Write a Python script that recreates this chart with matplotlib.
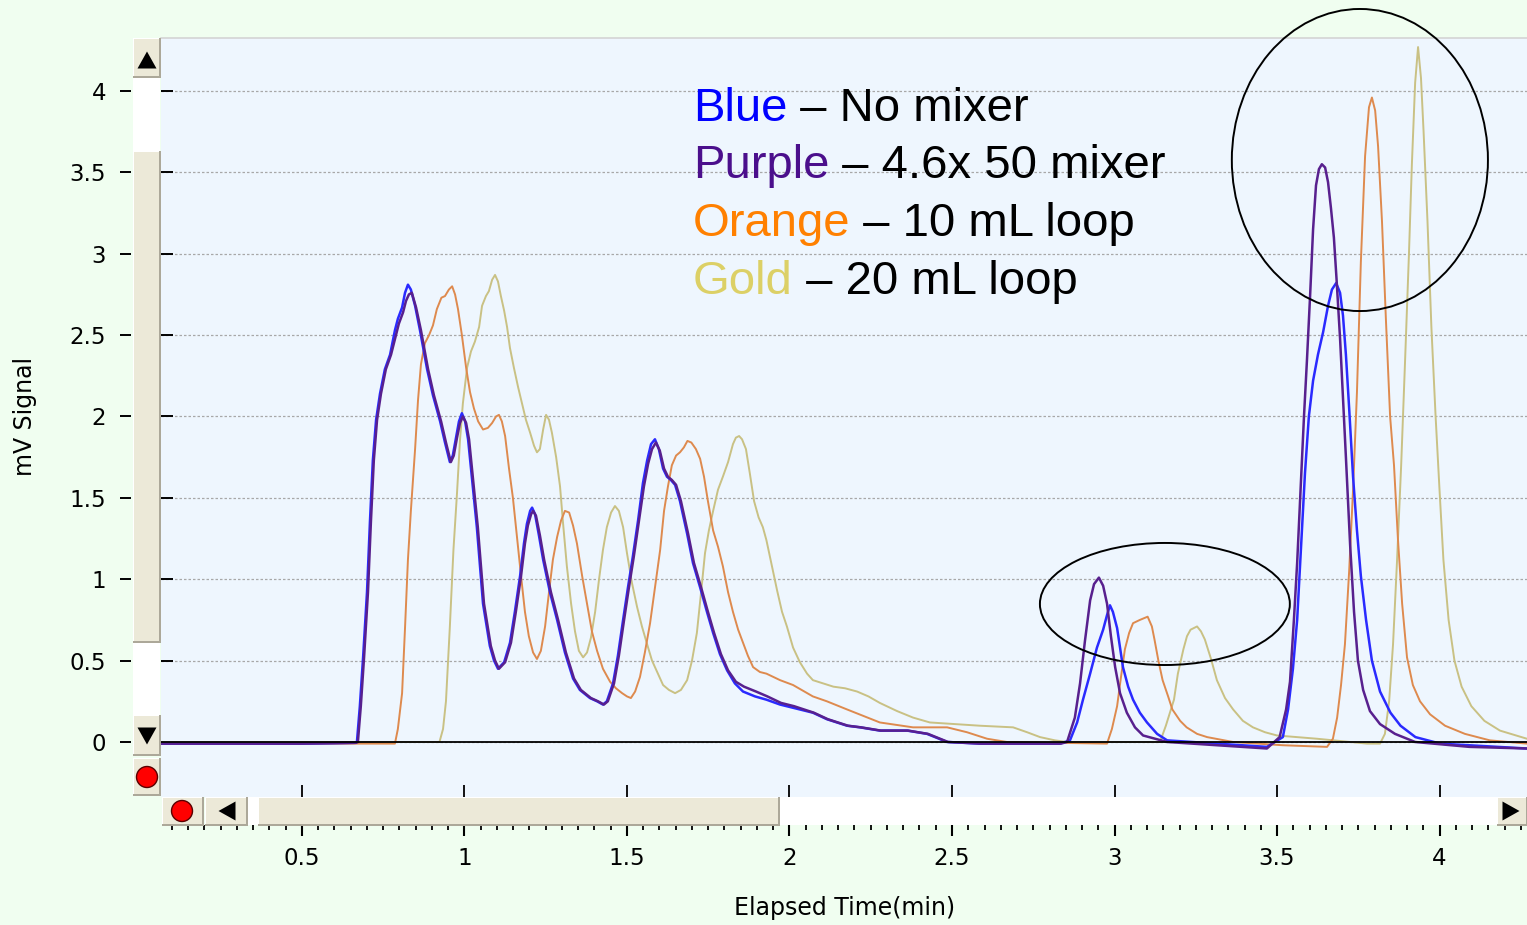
import matplotlib
matplotlib.use('Agg')
import matplotlib.pyplot as plt
from matplotlib.patches import Rectangle, Circle, Polygon, Ellipse
from matplotlib.ticker import MultipleLocator, FormatStrFormatter

# (elapsed time in min, signal in mV) for each run

# Blue - no mixer
blue_pts = [
    (0.066, -0.01), (0.494, -0.01), (0.663, -0.005), (0.669, 0.0), (0.678, 0.22), (0.688, 0.52),
    (0.700, 0.92), (0.709, 1.35), (0.718, 1.73), (0.728, 1.98), (0.740, 2.14), (0.755, 2.29),
    (0.771, 2.38), (0.786, 2.53), (0.795, 2.60), (0.808, 2.67), (0.817, 2.76), (0.826, 2.81),
    (0.835, 2.78), (0.848, 2.68), (0.863, 2.53), (0.885, 2.29), (0.903, 2.13), (0.925, 1.97),
    (0.940, 1.84), (0.955, 1.72), (0.964, 1.76), (0.974, 1.87), (0.983, 1.97), (0.992, 2.02),
    (1.002, 1.97), (1.011, 1.86), (1.023, 1.62), (1.038, 1.32), (1.057, 0.85), (1.078, 0.59),
    (1.091, 0.50), (1.103, 0.45), (1.122, 0.49), (1.140, 0.61), (1.155, 0.80), (1.171, 1.02),
    (1.183, 1.22), (1.192, 1.34), (1.202, 1.42), (1.208, 1.44), (1.217, 1.40), (1.229, 1.27),
    (1.242, 1.12), (1.263, 0.92), (1.285, 0.75), (1.309, 0.55), (1.334, 0.39), (1.355, 0.32),
    (1.386, 0.27), (1.408, 0.25), (1.426, 0.23), (1.438, 0.25), (1.457, 0.36), (1.472, 0.53),
    (1.488, 0.75), (1.503, 0.95), (1.518, 1.14), (1.534, 1.36), (1.549, 1.59), (1.562, 1.73),
    (1.574, 1.83), (1.586, 1.86), (1.598, 1.80), (1.611, 1.68), (1.623, 1.63), (1.635, 1.61),
    (1.648, 1.58), (1.663, 1.48), (1.685, 1.28), (1.703, 1.10), (1.725, 0.95), (1.746, 0.80),
    (1.765, 0.67), (1.786, 0.54), (1.808, 0.44), (1.832, 0.36), (1.857, 0.31), (1.894, 0.28),
    (1.929, 0.26), (1.971, 0.23), (2.011, 0.21), (2.072, 0.18), (2.115, 0.14), (2.177, 0.10),
    (2.217, 0.09), (2.278, 0.07), (2.362, 0.07), (2.423, 0.05), (2.485, 0.0), (2.586, -0.01),
    (2.832, -0.01), (2.863, 0.01), (2.885, 0.12), (2.903, 0.26), (2.925, 0.42), (2.946, 0.58),
    (2.965, 0.69), (2.977, 0.78), (2.986, 0.84), (2.995, 0.80), (3.008, 0.70), (3.017, 0.58),
    (3.026, 0.46), (3.042, 0.34), (3.057, 0.26), (3.078, 0.18), (3.100, 0.12), (3.131, 0.05),
    (3.162, 0.01), (3.469, -0.03), (3.518, 0.03), (3.534, 0.20), (3.549, 0.45), (3.562, 0.75),
    (3.574, 1.20), (3.586, 1.65), (3.598, 2.00), (3.611, 2.22), (3.626, 2.38), (3.642, 2.52),
    (3.657, 2.68), (3.669, 2.78), (3.682, 2.82), (3.694, 2.76), (3.703, 2.62), (3.712, 2.38),
    (3.722, 2.05), (3.734, 1.63), (3.746, 1.30), (3.758, 1.02), (3.774, 0.75), (3.792, 0.50),
    (3.817, 0.31), (3.849, 0.18), (3.880, 0.10), (3.926, 0.03), (4.002, -0.01), (4.269, -0.04),
]

# Purple - 4.6x 50 mixer
purple_pts = [
    (0.066, -0.01), (0.494, -0.01), (0.666, -0.005), (0.672, 0.0), (0.681, 0.22), (0.691, 0.52),
    (0.703, 0.92), (0.712, 1.35), (0.721, 1.73), (0.731, 1.98), (0.743, 2.14), (0.758, 2.29),
    (0.774, 2.38), (0.789, 2.50), (0.798, 2.57), (0.811, 2.64), (0.820, 2.71), (0.829, 2.75),
    (0.838, 2.76), (0.851, 2.67), (0.866, 2.53), (0.888, 2.29), (0.906, 2.13), (0.928, 1.97),
    (0.943, 1.84), (0.958, 1.72), (0.967, 1.76), (0.977, 1.87), (0.986, 1.96), (0.995, 2.00),
    (1.005, 1.96), (1.014, 1.86), (1.026, 1.62), (1.041, 1.32), (1.060, 0.85), (1.081, 0.59),
    (1.094, 0.50), (1.106, 0.45), (1.125, 0.49), (1.143, 0.61), (1.158, 0.80), (1.174, 1.02),
    (1.186, 1.22), (1.195, 1.33), (1.205, 1.40), (1.211, 1.42), (1.220, 1.39), (1.232, 1.27),
    (1.245, 1.12), (1.266, 0.92), (1.288, 0.75), (1.312, 0.55), (1.337, 0.39), (1.358, 0.32),
    (1.389, 0.27), (1.411, 0.25), (1.429, 0.23), (1.441, 0.25), (1.460, 0.36), (1.475, 0.53),
    (1.491, 0.75), (1.506, 0.95), (1.521, 1.14), (1.537, 1.36), (1.552, 1.57), (1.565, 1.71),
    (1.577, 1.80), (1.589, 1.84), (1.601, 1.79), (1.614, 1.68), (1.626, 1.63), (1.638, 1.61),
    (1.651, 1.58), (1.666, 1.48), (1.688, 1.28), (1.706, 1.10), (1.728, 0.95), (1.749, 0.80),
    (1.768, 0.67), (1.789, 0.54), (1.811, 0.44), (1.835, 0.37), (1.860, 0.34), (1.897, 0.31),
    (1.932, 0.28), (1.974, 0.24), (2.014, 0.22), (2.075, 0.18), (2.118, 0.14), (2.180, 0.10),
    (2.220, 0.09), (2.281, 0.07), (2.365, 0.07), (2.426, 0.05), (2.488, 0.0), (2.589, -0.01),
    (2.835, -0.01), (2.854, 0.0), (2.878, 0.15), (2.894, 0.36), (2.909, 0.62), (2.925, 0.87),
    (2.937, 0.97), (2.952, 1.01), (2.965, 0.96), (2.977, 0.85), (2.989, 0.65), (3.002, 0.46),
    (3.017, 0.30), (3.038, 0.18), (3.063, 0.09), (3.088, 0.04), (3.162, 0.0), (3.469, -0.04),
    (3.508, 0.03), (3.528, 0.20), (3.540, 0.37), (3.552, 0.75), (3.562, 1.10), (3.571, 1.49),
    (3.583, 2.00), (3.592, 2.34), (3.602, 2.75), (3.611, 3.15), (3.620, 3.42), (3.629, 3.52),
    (3.638, 3.55), (3.648, 3.53), (3.657, 3.44), (3.666, 3.28), (3.675, 3.10), (3.683, 2.85),
    (3.694, 2.48), (3.703, 2.12), (3.712, 1.75), (3.725, 1.21), (3.737, 0.80), (3.749, 0.50),
    (3.765, 0.32), (3.786, 0.19), (3.817, 0.11), (3.863, 0.05), (3.925, 0.0), (4.092, -0.03),
    (4.269, -0.04),
]

# Orange - 10 mL loop
orange_pts = [
    (0.066, -0.01), (0.786, -0.01), (0.795, 0.08), (0.808, 0.30), (0.817, 0.70), (0.826, 1.12),
    (0.835, 1.42), (0.848, 1.80), (0.857, 2.10), (0.866, 2.32), (0.878, 2.45), (0.891, 2.50),
    (0.903, 2.56), (0.915, 2.66), (0.929, 2.73), (0.940, 2.74), (0.952, 2.78), (0.962, 2.80),
    (0.971, 2.75), (0.980, 2.66), (0.992, 2.50), (1.005, 2.30), (1.017, 2.15), (1.029, 2.05),
    (1.042, 1.97), (1.057, 1.92), (1.072, 1.93), (1.085, 1.96), (1.097, 2.00), (1.106, 2.01),
    (1.115, 1.97), (1.125, 1.88), (1.137, 1.68), (1.149, 1.50), (1.162, 1.25), (1.174, 1.02),
    (1.186, 0.80), (1.198, 0.65), (1.211, 0.55), (1.223, 0.51), (1.235, 0.56), (1.248, 0.71),
    (1.260, 0.92), (1.272, 1.12), (1.285, 1.26), (1.297, 1.36), (1.309, 1.42), (1.322, 1.41),
    (1.334, 1.33), (1.346, 1.22), (1.362, 1.02), (1.377, 0.85), (1.392, 0.68), (1.408, 0.56),
    (1.426, 0.45), (1.448, 0.37), (1.466, 0.33), (1.485, 0.30), (1.500, 0.28), (1.512, 0.27),
    (1.525, 0.31), (1.540, 0.40), (1.555, 0.55), (1.571, 0.73), (1.586, 0.95), (1.602, 1.18),
    (1.614, 1.42), (1.626, 1.57), (1.638, 1.70), (1.651, 1.76), (1.663, 1.78), (1.675, 1.81),
    (1.686, 1.85), (1.698, 1.84), (1.712, 1.80), (1.725, 1.74), (1.737, 1.63), (1.749, 1.48),
    (1.765, 1.30), (1.780, 1.20), (1.795, 1.08), (1.811, 0.92), (1.826, 0.80), (1.842, 0.69),
    (1.857, 0.61), (1.872, 0.53), (1.888, 0.46), (1.909, 0.43), (1.929, 0.42), (1.971, 0.38),
    (2.011, 0.35), (2.072, 0.28), (2.115, 0.25), (2.177, 0.20), (2.278, 0.12), (2.380, 0.09),
    (2.485, 0.09), (2.546, 0.06), (2.608, 0.02), (2.669, 0.0), (2.977, -0.01), (2.992, 0.08),
    (3.008, 0.22), (3.020, 0.40), (3.032, 0.57), (3.045, 0.67), (3.057, 0.73), (3.078, 0.75),
    (3.102, 0.77), (3.115, 0.71), (3.123, 0.63), (3.135, 0.50), (3.148, 0.38), (3.165, 0.28),
    (3.178, 0.20), (3.202, 0.13), (3.222, 0.09), (3.254, 0.05), (3.285, 0.03), (3.365, 0.0),
    (3.518, -0.02), (3.654, -0.03), (3.672, 0.02), (3.685, 0.15), (3.697, 0.35), (3.709, 0.60),
    (3.722, 1.05), (3.734, 1.55), (3.746, 2.15), (3.758, 2.95), (3.771, 3.60), (3.783, 3.90),
    (3.792, 3.96), (3.802, 3.88), (3.811, 3.66), (3.823, 3.20), (3.835, 2.60), (3.848, 2.00),
    (3.860, 1.70), (3.872, 1.25), (3.885, 0.85), (3.900, 0.52), (3.918, 0.35), (3.940, 0.25),
    (3.971, 0.17), (4.017, 0.10), (4.078, 0.05), (4.155, 0.01), (4.269, -0.01),
]

# Gold - 20 mL loop
gold_pts = [
    (0.066, 0.0), (0.923, 0.0), (0.934, 0.08), (0.943, 0.25), (0.955, 0.71), (0.966, 1.18),
    (0.977, 1.53), (0.986, 1.85), (0.995, 2.08), (1.008, 2.30), (1.020, 2.40), (1.032, 2.46),
    (1.045, 2.55), (1.054, 2.68), (1.066, 2.74), (1.075, 2.77), (1.085, 2.84), (1.094, 2.87),
    (1.103, 2.83), (1.112, 2.74), (1.122, 2.65), (1.131, 2.55), (1.140, 2.42), (1.152, 2.30),
    (1.165, 2.18), (1.177, 2.08), (1.189, 1.98), (1.202, 1.90), (1.214, 1.82), (1.223, 1.78),
    (1.232, 1.80), (1.242, 1.92), (1.251, 2.01), (1.260, 1.98), (1.269, 1.90), (1.282, 1.75),
    (1.294, 1.57), (1.303, 1.35), (1.315, 1.08), (1.328, 0.85), (1.340, 0.68), (1.352, 0.56),
    (1.365, 0.52), (1.377, 0.55), (1.389, 0.64), (1.402, 0.80), (1.414, 1.00), (1.426, 1.18),
    (1.438, 1.32), (1.451, 1.41), (1.463, 1.45), (1.475, 1.42), (1.488, 1.32), (1.500, 1.16),
    (1.515, 0.98), (1.531, 0.83), (1.546, 0.71), (1.562, 0.60), (1.577, 0.50), (1.595, 0.42),
    (1.611, 0.35), (1.629, 0.32), (1.648, 0.30), (1.666, 0.32), (1.685, 0.38), (1.700, 0.50),
    (1.715, 0.67), (1.728, 0.92), (1.740, 1.16), (1.752, 1.30), (1.765, 1.42), (1.780, 1.55),
    (1.795, 1.63), (1.811, 1.72), (1.826, 1.83), (1.835, 1.87), (1.845, 1.88), (1.854, 1.86),
    (1.866, 1.80), (1.878, 1.65), (1.891, 1.48), (1.905, 1.38), (1.918, 1.32), (1.929, 1.24),
    (1.946, 1.08), (1.962, 0.93), (1.977, 0.80), (1.992, 0.71), (2.011, 0.58), (2.032, 0.49),
    (2.054, 0.42), (2.072, 0.38), (2.103, 0.36), (2.135, 0.34), (2.171, 0.33), (2.208, 0.31),
    (2.243, 0.28), (2.278, 0.24), (2.331, 0.19), (2.380, 0.15), (2.432, 0.12), (2.509, 0.11),
    (2.586, 0.10), (2.688, 0.09), (2.731, 0.06), (2.771, 0.03), (2.817, 0.01), (2.854, 0.0),
    (3.140, 0.0), (3.158, 0.10), (3.183, 0.26), (3.195, 0.42), (3.212, 0.57), (3.223, 0.65),
    (3.234, 0.69), (3.254, 0.71), (3.266, 0.68), (3.278, 0.63), (3.297, 0.51), (3.315, 0.38),
    (3.340, 0.27), (3.365, 0.20), (3.395, 0.13), (3.426, 0.09), (3.463, 0.06), (3.500, 0.04),
    (3.623, 0.02), (3.777, -0.01), (3.817, -0.01), (3.832, 0.05), (3.845, 0.25), (3.857, 0.60),
    (3.869, 1.10), (3.882, 1.70), (3.894, 2.34), (3.906, 3.00), (3.915, 3.55), (3.925, 4.05),
    (3.934, 4.27), (3.943, 4.08), (3.951, 3.75), (3.963, 3.20), (3.975, 2.55), (3.988, 2.00),
    (4.000, 1.55), (4.012, 1.12), (4.028, 0.75), (4.046, 0.50), (4.068, 0.34), (4.098, 0.22),
    (4.138, 0.13), (4.186, 0.07), (4.269, 0.02),
]

y_ticks = [0, 0.5, 1, 1.5, 2, 2.5, 3, 3.5, 4]
x_ticks = [0.5, 1, 1.5, 2, 2.5, 3, 3.5, 4]

legend_keys = ['Blue', 'Purple', 'Orange', 'Gold']
legend_desc = [' \u2013 No mixer', ' \u2013 4.6x 50 mixer', ' \u2013 10 mL loop', ' \u2013 20 mL loop']
legend_colors = ['#0000ff', '#4b0f8c', '#ff8000', '#dcd066']

W, H = 1527, 925
fig = plt.figure(figsize=(W / 100, H / 100), dpi=100, facecolor='#f0fef0')

# plot area, pixel box 161..1527 x 38..797
ax = fig.add_axes([161 / W, 1 - 797 / H, 1 - 161 / W, (797 - 38) / H])
ax.set_facecolor('#eef6fe')
ax.set_xlim(0.0662, 4.2692)
ax.set_ylim(-0.338, 4.3257)

for side in ['left', 'right', 'bottom']:
    ax.spines[side].set_visible(False)
ax.spines['top'].set_color('#d4d4d4')
ax.spines['top'].set_linewidth(1.2)

ax.set_yticks(y_ticks)
ax.set_xticks(x_ticks)
ax.tick_params(axis='y', direction='in', length=8.5, width=1.4, labelleft=False)
ax.tick_params(axis='x', direction='in', length=9, width=1.3, labelbottom=False)
ax.yaxis.grid(True, color='#a8a8a8', linestyle=(0, (2, 1.6)), linewidth=0.9)
ax.set_axisbelow(True)

ax.axhline(0, color='black', linewidth=1.3, zorder=2.5)

for pts, col, lw in [(gold_pts, '#c9c184', 1.4), (orange_pts, '#de8a4e', 1.4),
                     (blue_pts, '#2a2aff', 1.8), (purple_pts, '#58208e', 1.8)]:
    t, mv = zip(*pts)
    ax.plot(t, mv, color=col, linewidth=lw, solid_joinstyle='round', zorder=2)

# highlight rings
ax.add_patch(Ellipse((3.755, 3.576), 0.788, 1.856, fill=False, edgecolor='black',
                     linewidth=1.4, clip_on=False, zorder=4))
ax.add_patch(Ellipse((3.155, 0.848), 0.769, 0.750, fill=False, edgecolor='black',
                     linewidth=1.4, clip_on=False, zorder=4))

# outer y ticks with labels, left of the scrollbar
sec_y = ax.secondary_yaxis(-0.022)
sec_y.set_yticks(y_ticks)
sec_y.yaxis.set_major_formatter(FormatStrFormatter('%g'))
sec_y.tick_params(direction='out', length=8, width=1.4, pad=10, labelsize=16.5)
sec_y.spines['left'].set_visible(False)

# time ruler below the scrollbar
sec_x = ax.secondary_xaxis(-0.0369)
sec_x.set_xticks(x_ticks)
sec_x.xaxis.set_major_formatter(FormatStrFormatter('%g'))
sec_x.xaxis.set_minor_locator(MultipleLocator(0.05))
sec_x.tick_params(which='major', direction='out', length=8, width=1.5, pad=8, labelsize=16.5)
sec_x.tick_params(which='minor', direction='out', length=3.6, width=1.3)
sec_x.spines['bottom'].set_visible(False)

fig.text(25 / 100, (H - 416) / 100, 'mV Signal', transform=fig.dpi_scale_trans,
         rotation=90, ha='center', va='center', fontsize=17)
fig.text(845 / 100, (H - 908) / 100, 'Elapsed Time(min)', transform=fig.dpi_scale_trans,
         ha='center', va='center', fontsize=17)


# scrollbar chrome, given in pixel boxes (y measured from the top)
def rect(x0, y0, x1, y1, color):
    fig.add_artist(Rectangle((x0 / 100, (H - y1) / 100), (x1 - x0) / 100, (y1 - y0) / 100,
                             transform=fig.dpi_scale_trans, facecolor=color,
                             edgecolor='none', zorder=3))


def button(x0, y0, x1, y1):
    rect(x0, y0, x1, y1, '#aca899')
    rect(x0, y0, x1 - 2, y1 - 2, '#ffffff')
    rect(x0 + 1, y0 + 1, x1 - 2, y1 - 2, '#ece9d8')


def arrow(cx, cy, w, h, way):
    if way == 'up':
        pts = [(cx - w / 2, cy + h / 2), (cx + w / 2, cy + h / 2), (cx, cy - h / 2)]
    elif way == 'down':
        pts = [(cx - w / 2, cy - h / 2), (cx + w / 2, cy - h / 2), (cx, cy + h / 2)]
    elif way == 'left':
        pts = [(cx + w / 2, cy - h / 2), (cx + w / 2, cy + h / 2), (cx - w / 2, cy)]
    else:
        pts = [(cx - w / 2, cy - h / 2), (cx - w / 2, cy + h / 2), (cx + w / 2, cy)]
    fig.add_artist(Polygon([(x / 100, (H - y) / 100) for x, y in pts], closed=True,
                           transform=fig.dpi_scale_trans, facecolor='black',
                           edgecolor='none', zorder=4))


def red_dot(cx, cy):
    fig.add_artist(Circle((cx / 100, (H - cy) / 100), 0.105, transform=fig.dpi_scale_trans,
                          facecolor='#ff0000', edgecolor='#5a0000', linewidth=1, zorder=4))


# vertical scrollbar
rect(133, 78, 160, 715, '#ffffff')
button(133, 38, 161, 78)
arrow(147, 60, 19, 17, 'up')
button(133, 151, 161, 643)
button(133, 715, 161, 756)
arrow(147, 736, 19, 17, 'down')
button(133, 758, 161, 796)
red_dot(147, 777)

# horizontal scrollbar
rect(247, 797, 1497, 825, '#ffffff')
button(162, 797, 204, 826)
red_dot(182, 811)
button(205, 797, 248, 826)
arrow(227, 811, 17, 19, 'left')
button(258, 797, 780, 826)
button(1497, 797, 1528, 826)
arrow(1511, 811, 17, 19, 'right')

# colour key
for i, (key, desc, col) in enumerate(zip(legend_keys, legend_desc, legend_colors)):
    head = fig.text(693 / 100, (H - 121 - i * 57.5) / 100, key, transform=fig.dpi_scale_trans,
                    color=col, fontsize=34, family='Liberation Sans', va='baseline', zorder=5)
    ax.annotate(desc, xy=(1, 0), xycoords=head, ha='left', va='bottom', color='black',
                fontsize=34, family='Liberation Sans', zorder=5)

fig.savefig('out.png', dpi=100, facecolor=fig.get_facecolor())
